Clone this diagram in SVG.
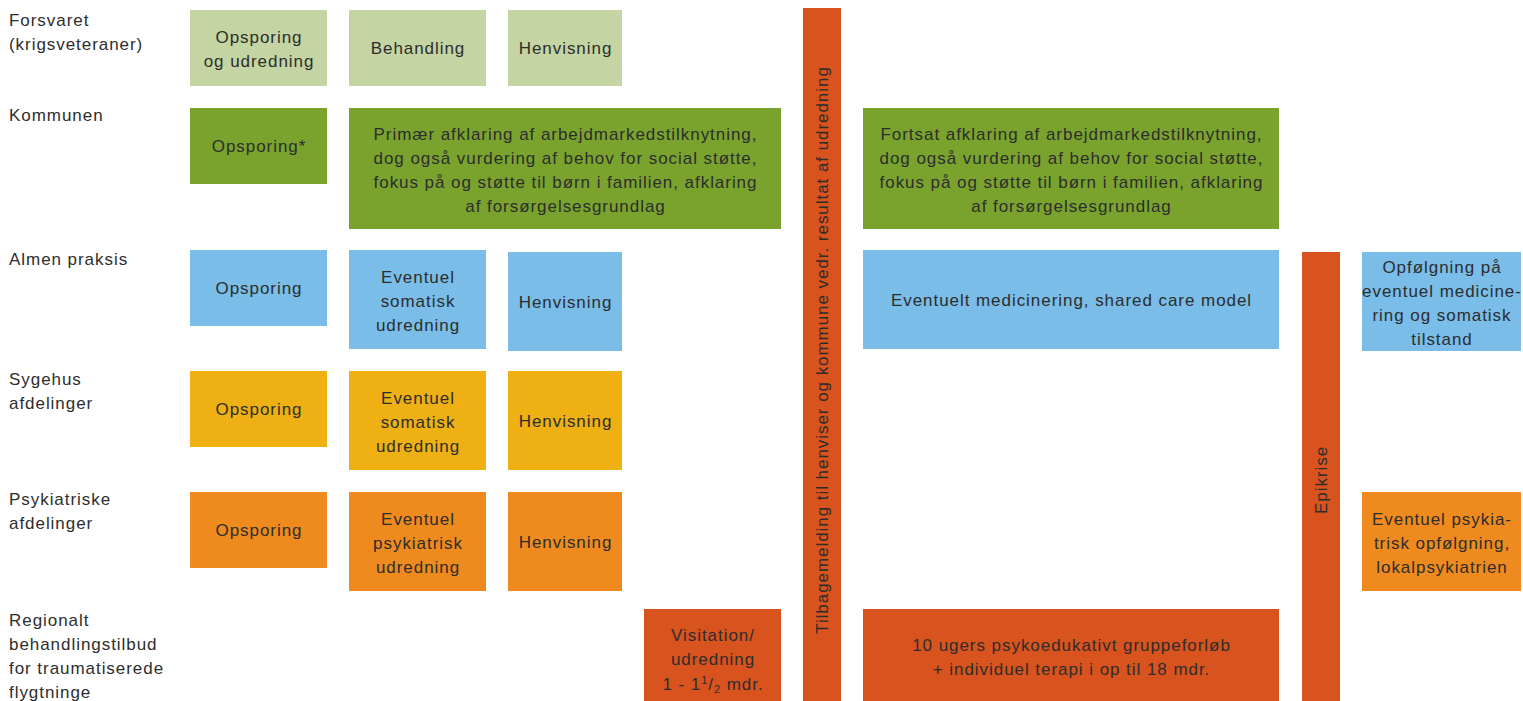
<svg xmlns="http://www.w3.org/2000/svg" width="1523" height="701" viewBox="0 0 1523 701">
<style>
text{font-family:"Liberation Sans",Arial,sans-serif;font-size:17px;fill:#2d2d2d;letter-spacing:0.95px}
.c{text-anchor:middle}
.lg{fill:#c4d4a2}.g{fill:#7aa32e}.b{fill:#79bde8}.y{fill:#efb014}.o{fill:#ef8a1f}.r{fill:#d9531e}
</style>
<g id="labels">
<text x="9" y="26">Forsvaret</text><text x="9" y="50">(krigsveteraner)</text>
<text x="9" y="121">Kommunen</text>
<text x="9" y="265">Almen praksis</text>
<text x="9" y="385">Sygehus</text><text x="9" y="409">afdelinger</text>
<text x="9" y="505">Psykiatriske</text><text x="9" y="529">afdelinger</text>
<text x="9" y="626">Regionalt</text><text x="9" y="650">behandlingstilbud</text><text x="9" y="674">for traumatiserede</text><text x="9" y="698">flygtninge</text>
</g>
<g id="f1"><rect class="lg" x="190" y="10" width="137" height="76"/><text class="c" x="259" y="43">Opsporing</text><text class="c" x="259" y="67">og udredning</text></g>
<g id="f2"><rect class="lg" x="349" y="10" width="137" height="76"/><text class="c" x="418" y="54">Behandling</text></g>
<g id="f3"><rect class="lg" x="508" y="10" width="114" height="76"/><text class="c" x="565.5" y="54">Henvisning</text></g>
<g id="k1"><rect class="g" x="190" y="108" width="137" height="76"/><text class="c" x="259" y="152">Opsporing*</text></g>
<g id="k2"><rect class="g" x="349" y="108" width="432" height="121"/>
<text class="c" x="565.5" y="140">Primær afklaring af arbejdmarkedstilknytning,</text>
<text class="c" x="565.5" y="164">dog også vurdering af behov for social støtte,</text>
<text class="c" x="565.5" y="188">fokus på og støtte til børn i familien, afklaring</text>
<text class="c" x="565.5" y="212">af forsørgelsesgrundlag</text></g>
<g id="k3"><rect class="g" x="863" y="108" width="416" height="121"/>
<text class="c" x="1071.5" y="140">Fortsat afklaring af arbejdmarkedstilknytning,</text>
<text class="c" x="1071.5" y="164">dog også vurdering af behov for social støtte,</text>
<text class="c" x="1071.5" y="188">fokus på og støtte til børn i familien, afklaring</text>
<text class="c" x="1071.5" y="212">af forsørgelsesgrundlag</text></g>
<g id="a1"><rect class="b" x="190" y="250" width="137" height="76"/><text class="c" x="259" y="294">Opsporing</text></g>
<g id="a2"><rect class="b" x="349" y="250" width="137" height="99"/><text class="c" x="418" y="283">Eventuel</text><text class="c" x="418" y="307">somatisk</text><text class="c" x="418" y="331">udredning</text></g>
<g id="a3"><rect class="b" x="508" y="252" width="114" height="99"/><text class="c" x="565.5" y="308">Henvisning</text></g>
<g id="a4"><rect class="b" x="863" y="250" width="416" height="99"/><text class="c" x="1071.5" y="306">Eventuelt medicinering, shared care model</text></g>
<g id="a5"><rect class="b" x="1362" y="252" width="159" height="99"/><text class="c" x="1442" y="273">Opfølgning på</text><text class="c" x="1442" y="297">eventuel medicine-</text><text class="c" x="1442" y="321">ring og somatisk</text><text class="c" x="1442" y="345">tilstand</text></g>
<g id="s1"><rect class="y" x="190" y="371" width="137" height="76"/><text class="c" x="259" y="415">Opsporing</text></g>
<g id="s2"><rect class="y" x="349" y="371" width="137" height="99"/><text class="c" x="418" y="404">Eventuel</text><text class="c" x="418" y="428">somatisk</text><text class="c" x="418" y="452">udredning</text></g>
<g id="s3"><rect class="y" x="508" y="371" width="114" height="99"/><text class="c" x="565.5" y="427">Henvisning</text></g>
<g id="p1"><rect class="o" x="190" y="492" width="137" height="76"/><text class="c" x="259" y="536">Opsporing</text></g>
<g id="p2"><rect class="o" x="349" y="492" width="137" height="99"/><text class="c" x="418" y="525">Eventuel</text><text class="c" x="418" y="549">psykiatrisk</text><text class="c" x="418" y="573">udredning</text></g>
<g id="p3"><rect class="o" x="508" y="492" width="114" height="99"/><text class="c" x="565.5" y="548">Henvisning</text></g>
<g id="p4"><rect class="o" x="1362" y="492" width="159" height="99"/><text class="c" x="1442" y="525">Eventuel psykia-</text><text class="c" x="1442" y="549">trisk opfølgning,</text><text class="c" x="1442" y="573">lokalpsykiatrien</text></g>
<g id="r1"><rect class="r" x="644" y="609" width="137" height="92"/><text class="c" x="713" y="641">Visitation/</text><text class="c" x="713" y="665">udredning</text>
<text class="c" x="713" y="690">1 - 1<tspan font-size="11" dy="-6">1</tspan><tspan dy="6">/</tspan><tspan font-size="11" dy="3">2</tspan><tspan dy="-3"> mdr.</tspan></text></g>
<g id="r2"><rect class="r" x="863" y="609" width="416" height="92"/><text class="c" x="1071.5" y="651">10 ugers psykoedukativt gruppeforløb</text><text class="c" x="1071.5" y="675">+ individuel terapi i op til 18 mdr.</text></g>
<g id="bar1"><rect class="r" x="803" y="8" width="38" height="693"/><text class="c" transform="translate(828 350) rotate(-90)">Tilbagemelding til henviser og kommune vedr. resultat af udredning</text></g>
<g id="bar2"><rect class="r" x="1302" y="252" width="38" height="449"/><text class="c" transform="translate(1327 480) rotate(-90)">Epikrise</text></g>
<g id="connectors"/>
</svg>
